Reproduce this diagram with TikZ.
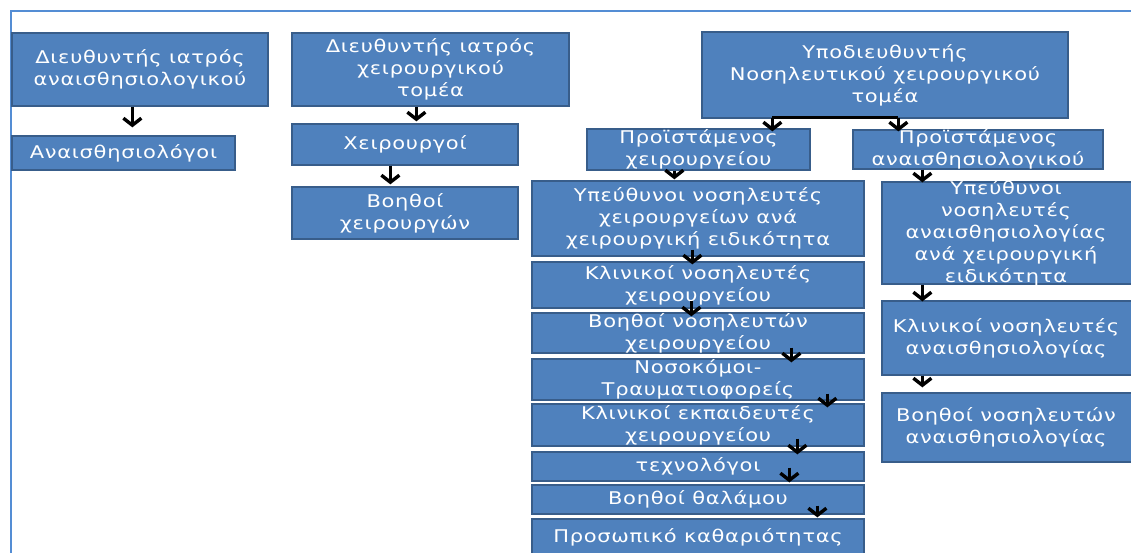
\documentclass[tikz,border=0pt]{standalone}
\usepackage{fontspec}
\usetikzlibrary{arrows.meta,fit}
\newfontfamily\boxfont[FakeStretch=1.2,LetterSpace=4]{DejaVu Sans}
\definecolor{boxblue}{RGB}{79,129,189}
\definecolor{boxedge}{RGB}{56,93,138}
\definecolor{framblue}{RGB}{84,141,212}
\tikzset{
  box/.style={draw=boxedge, fill=boxblue, line width=1.3pt, inner sep=0pt},
  lbl/.style={text=white, align=center, inner sep=0pt,
    font=\boxfont\fontsize{17.5}{22}\selectfont},
  arr/.style={draw=black, line width=3.4pt, -{Straight Barb[length=7pt,width=18pt]}},
  conn/.style={draw=black, line width=3pt},
}
\begin{document}
\begin{tikzpicture}[x=1pt,y=-1pt]
\useasboundingbox (0,0) rectangle (1131,552);
\clip (0,0) rectangle (1131,552);
\fill[white] (0,0) rectangle (1131,552);
% page frame
\draw[framblue, line width=2pt] (11,553) -- (11,11) -- (1140,11);

% anaesthesiology physicians
\node[box, fit={(12,33) (268,106)}, label={[lbl]center:Διευθυντής ιατρός\\αναισθησιολογικού}] (a1) {};
\node[box, fit={(12,136) (235,170)}, label={[lbl]center:Αναισθησιολόγοι}] (a2) {};

% surgical physicians
\node[box, fit={(292,33) (569,106)}, label={[lbl]center:Διευθυντής ιατρός\\χειρουργικού\\τομέα}] (b1) {};
\node[box, fit={(292,124) (518,165)}, label={[lbl]center:Χειρουργοί}] (b2) {};
\node[box, fit={(292,187) (518,239)}, label={[lbl]center:Βοηθοί\\χειρουργών}] (b3) {};

% nursing
\node[box, fit={(702,32) (1068,118)}, label={[lbl]center:Υποδιευθυντής\\Νοσηλευτικού χειρουργικού\\τομέα}] (c1) {};
\node[box, fit={(587,129) (810,170)}, label={[lbl]center:Προϊστάμενος\\χειρουργείου}] (d1) {};
\node[box, fit={(853,130) (1103,169)}, label={[lbl]center:Προϊστάμενος\\αναισθησιολογικού}] (d2) {};

% operating theatre staff
\node[box, fit={(532,181) (864,256)}, label={[lbl]center:Υπεύθυνοι νοσηλευτές\\χειρουργείων ανά\\χειρουργική ειδικότητα}] (e1) {};
\node[box, fit={(532,262) (864,308)}, label={[lbl]center:Κλινικοί νοσηλευτές\\χειρουργείου}] (e2) {};
\node[box, fit={(532,313) (864,353)}, label={[lbl]center:Βοηθοί νοσηλευτών\\χειρουργείου}] (e3) {};
\node[box, fit={(532,359) (864,400)}, label={[lbl]center:Νοσοκόμοι-\\Τραυματιοφορείς}] (e4) {};
\node[box, fit={(532,404) (864,446)}, label={[lbl]center:Κλινικοί εκπαιδευτές\\χειρουργείου}] (e5) {};
\node[box, fit={(532,452) (864,481)}, label={[lbl]center:τεχνολόγοι}] (e6) {};
\node[box, fit={(532,485) (864,514)}, label={[lbl]center:Βοηθοί θαλάμου}] (e7) {};
\node[box, fit={(532,519) (864,565)}, label={[lbl,yshift=5pt]center:Προσωπικό καθαριότητας}] (e8) {};

% anaesthesia nursing staff
\node[box, fit={(882,182) (1136,284)}, label={[lbl,xshift=-3pt]center:Υπεύθυνοι\\νοσηλευτές\\αναισθησιολογίας\\ανά χειρουργική\\ειδικότητα}] (f1) {};
\node[box, fit={(882,301) (1136,375)}, label={[lbl,xshift=-3pt]center:Κλινικοί νοσηλευτές\\αναισθησιολογίας}] (f2) {};
\node[box, fit={(882,393) (1136,462)}, label={[lbl,xshift=-3pt]center:Βοηθοί νοσηλευτών\\αναισθησιολογίας}] (f3) {};

% connectors
\draw[arr] ([xshift=121pt]a1.south west) -- ([xshift=121pt,yshift=8pt]a2.north west);
\draw[arr] ([xshift=125pt]b1.south west) -- ([xshift=125pt,yshift=2pt]b2.north west);
\draw[arr] ([xshift=99pt]b2.south west) -- ([xshift=99pt,yshift=2pt]b3.north west);

\draw[conn] ([xshift=71pt,yshift=1pt]c1.south west) -- ([xshift=197pt,yshift=1pt]c1.south west);
\draw[arr] ([xshift=71pt,yshift=1pt]c1.south west) -- ([xshift=186pt,yshift=-3pt]d1.north west);
\draw[arr] ([xshift=197pt,yshift=1pt]c1.south west) -- ([xshift=46pt,yshift=-2pt]d2.north west);

\draw[arr] ([xshift=88pt]d1.south west) -- ([xshift=143pt,yshift=1pt]e1.north west);
\draw[arr] ([xshift=70pt]d2.south west) -- ([xshift=41pt,yshift=-1pt]f1.north west);

\draw[arr] ([xshift=161pt,yshift=7pt]e1.south west) -- ([xshift=161pt,yshift=-3pt]e2.north west);
\draw[arr] ([xshift=160pt,yshift=8pt]e2.south west) -- ([xshift=160pt,yshift=-4pt]e3.north west);
\draw[arr] ([xshift=260pt,yshift=6pt]e3.south west) -- ([xshift=260pt,yshift=-4pt]e4.north west);
\draw[arr] ([xshift=296pt,yshift=7pt]e4.south west) -- ([xshift=296pt,yshift=-4pt]e5.north west);
\draw[arr] ([xshift=266pt,yshift=8pt]e5.south west) -- ([xshift=266pt,yshift=-3pt]e6.north west);
\draw[arr] ([xshift=258pt,yshift=14pt]e6.south west) -- ([xshift=258pt,yshift=2pt]e7.north west);
\draw[arr] ([xshift=286pt,yshift=9pt]e7.south west) -- ([xshift=286pt,yshift=1pt]e8.north west);

\draw[arr] ([xshift=41pt]f1.south west) -- ([xshift=41pt,yshift=-1pt]f2.north west);
\draw[arr] ([xshift=41pt]f2.south west) -- ([xshift=41pt,yshift=5pt]f3.north west);
\end{tikzpicture}
\end{document}
